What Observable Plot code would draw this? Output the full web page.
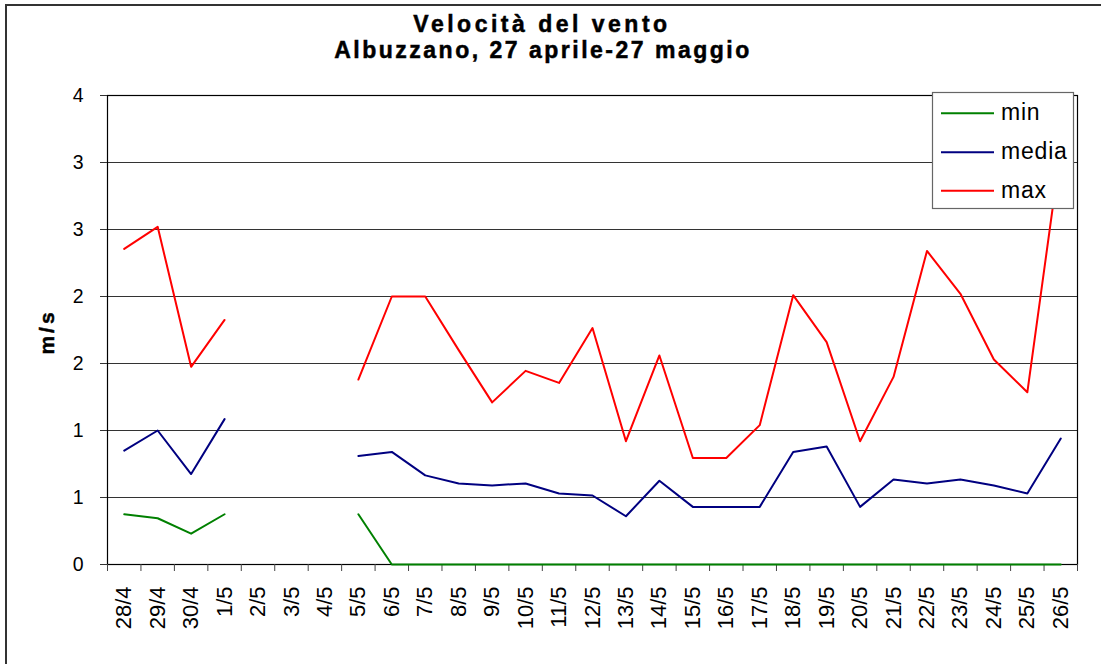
<!DOCTYPE html>
<html>
<head>
<meta charset="utf-8">
<script src="https://cdn.jsdelivr.net/npm/d3@7"></script>
<script src="https://cdn.jsdelivr.net/npm/@observablehq/plot@0.6"></script>
<style>
  body { margin: 0; background: #fff; font-family: "Liberation Sans", Arial, sans-serif; }
  #wrap { position: relative; width: 1101px; height: 664px; overflow: hidden; background: #fff; }
  #chart { position: absolute; left: 0; top: 0; }
  #overlay { position: absolute; left: 0; top: 0; pointer-events: none; }
  #border { position: absolute; left: 5px; top: 4px; width: 1120px; height: 700px; border: 2px solid #333; box-sizing: border-box; }
</style>
</head>
<body>
<div id="wrap">
  <div id="border"></div>
  <div id="chart"></div>
</div>
<script>
// ---- data ----
const titleLines = ["Velocità del vento", "Albuzzano, 27 aprile-27 maggio"];
const yLabel = "m/s";
const dates = ["28/4","29/4","30/4","1/5","2/5","3/5","4/5","5/5","6/5","7/5","8/5","9/5","10/5","11/5","12/5","13/5","14/5","15/5","16/5","17/5","18/5","19/5","20/5","21/5","22/5","23/5","24/5","25/5","26/5"];
const seriesNames = ["min", "media", "max"];
const vMin   = [0.375,0.345,0.23,0.375,null,null,null,0.375,0,0,0,0,0,0,0,0,0,0,0,0,0,0,0,0,0,0,0,0,0];
const vMedia = [0.85,1.0,0.675,1.085,null,null,null,0.81,0.84,0.665,0.605,0.59,0.605,0.53,0.515,0.36,0.625,0.43,0.43,0.43,0.84,0.88,0.43,0.635,0.605,0.635,0.59,0.53,0.94];
const vMax   = [2.355,2.52,1.475,1.825,null,null,null,1.38,2.0,2.0,1.6,1.21,1.445,1.355,1.765,0.92,1.56,0.795,0.795,1.04,2.01,1.66,0.92,1.40,2.34,2.02,1.53,1.285,3.1];
const yTicks = [0, 0.5, 1, 1.5, 2, 2.5, 3, 3.5];

// ---- build ----
const colors = ["#008000", "#000080", "#ff0000"];
const allValues = [vMin, vMedia, vMax];
const rows = [];
seriesNames.forEach((s, k) => {
  dates.forEach((d, i) => {
    const v = allValues[k][i];
    rows.push({series: s, i, date: d, v: v == null ? NaN : v});
  });
});
const boundaries = d3.range(-0.5, dates.length, 1);

const chart = Plot.plot({
  width: 1101,
  height: 664,
  marginLeft: 107,
  marginRight: 24,
  marginTop: 95,
  marginBottom: 100,
  style: {fontFamily: "'Liberation Sans', Arial, sans-serif", fontSize: "19px", background: "transparent", color: "#000", overflow: "visible"},
  x: {domain: [-0.5, dates.length - 0.5]},
  y: {domain: [0, 3.5]},
  marks: [
    Plot.ruleY(yTicks, {stroke: "#333", strokeWidth: 1}),
    Plot.frame({stroke: "#000", strokeWidth: 1.2}),
    Plot.axisY({ticks: yTicks, tickFormat: d => String(Math.round(d)), tickSize: 7, tickPadding: 17, fontSize: 19.5, label: null, stroke: "#333"}),
    Plot.axisX({ticks: boundaries, tickSize: 7, tickFormat: () => "", label: null, stroke: "#444"}),
    Plot.axisX({ticks: d3.range(0, dates.length), tickSize: 0, tickPadding: 22, tickRotate: -90, textAnchor: "end", tickFormat: i => dates[i], fontSize: 22, label: null}),
    ...seriesNames.map((s, k) => Plot.line(rows.filter(r => r.series === s), {x: "i", y: "v", stroke: colors[k], strokeWidth: 2}))
  ]
});
document.getElementById("chart").appendChild(chart);

// ---- overlay: title, y label, legend ----
const ov = d3.select("#wrap").append("svg")
  .attr("id", "overlay").attr("width", 1101).attr("height", 664)
  .style("font-family", "'Liberation Sans', Arial, sans-serif");

ov.append("text").attr("x", 542).attr("y", 32).attr("text-anchor", "middle")
  .attr("font-size", 23).attr("font-weight", "bold").attr("letter-spacing", 3.5)
  .attr("stroke", "#000").attr("stroke-width", 0.5).text(titleLines[0]);
ov.append("text").attr("x", 543).attr("y", 58).attr("text-anchor", "middle")
  .attr("font-size", 23).attr("font-weight", "bold").attr("letter-spacing", 2.5)
  .attr("stroke", "#000").attr("stroke-width", 0.5).text(titleLines[1]);

ov.append("text").attr("transform", "translate(53.5,332) rotate(-90)").attr("text-anchor", "middle")
  .attr("font-size", 21).attr("font-weight", "bold").attr("letter-spacing", 3)
  .attr("stroke", "#000").attr("stroke-width", 0.5).text(yLabel);

const lg = ov.append("g");
lg.append("rect").attr("x", 932.5).attr("y", 92.5).attr("width", 141).attr("height", 116)
  .attr("fill", "#fff").attr("stroke", "#666").attr("stroke-width", 1.2);
const lgY = [113.3, 152.3, 190.7];
seriesNames.forEach((s, k) => {
  lg.append("line").attr("x1", 941).attr("x2", 994).attr("y1", lgY[k]).attr("y2", lgY[k])
    .attr("stroke", colors[k]).attr("stroke-width", 2);
  lg.append("text").attr("x", 1001).attr("y", lgY[k] + 6.8).attr("font-size", 23)
    .attr("letter-spacing", 0.8).text(s);
});
</script>
</body>
</html>
